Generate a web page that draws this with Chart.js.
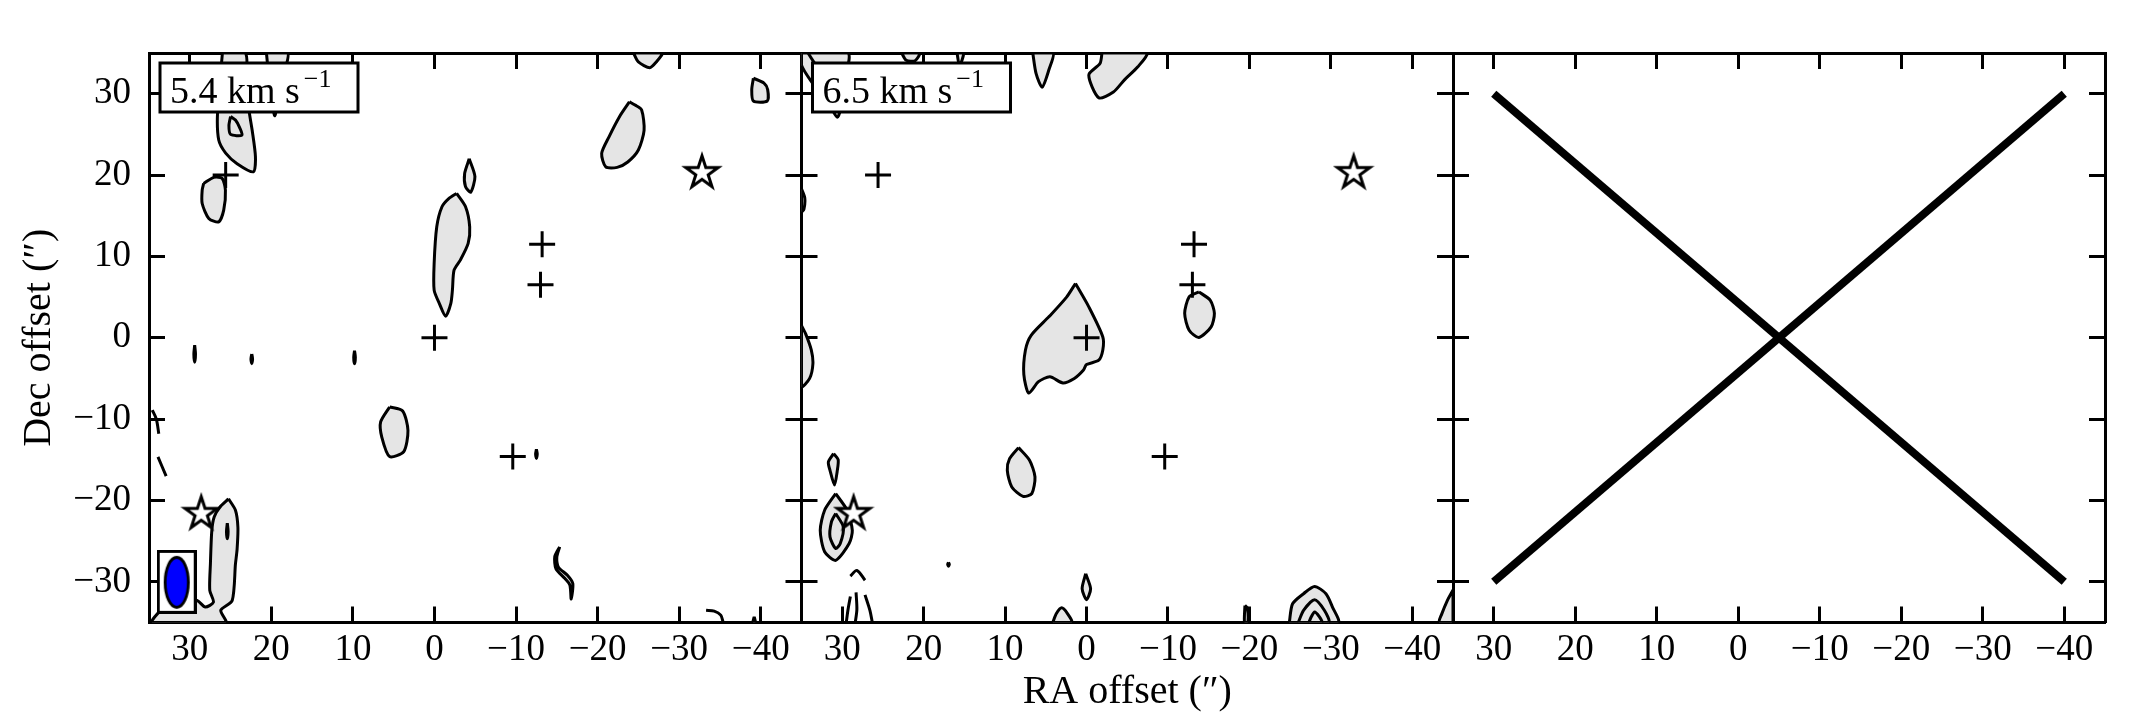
<!DOCTYPE html>
<html><head><meta charset="utf-8">
<script src="https://cdn.jsdelivr.net/npm/chart.js@4.4.1/dist/chart.umd.min.js"></script>
<style>
html,body{margin:0;padding:0;background:#fff;}
#wrap{position:relative;width:2129px;height:721px;background:#fff;overflow:hidden}
canvas{position:absolute;left:0;top:0}
</style></head><body>
<div id="wrap">
<canvas id="c1" width="2129" height="721"></canvas>
<canvas id="c2" width="2129" height="721"></canvas>
<canvas id="c3" width="2129" height="721"></canvas>
</div>
<script>
// ---------- axis ticks / labels ----------
const xTickValues = [30, 20, 10, 0, -10, -20, -30, -40];
const yTickValues = [-30, -20, -10, 0, 10, 20, 30];
const xRange = [-45, 35];
const yRange = [-35, 35];
const velocities = ['5.4', '6.5', null];
const xTitle = 'RA offset (\u2033)';
const yTitle = 'Dec offset (\u2033)';

// ---------- markers (same in both channel maps) ----------
const plusX = [25.6, 0, -13.2, -13.0, -9.6];
const plusY = [20.0, 0, 11.5, 6.5, -14.6];
const starX = [-32.8, 28.6];
const starY = [20.4, -21.5];
const beamX = [31.6];
const beamY = [-30.0];

// ---------- panel 1 (5.4 km/s) contours ----------
const a_blobA = [[26.0,35],[26.6,27.6],[26.45,24.3],[25.6,22.7],[24.2,21.4],[22.2,20.4],[21.95,22.25],[22.35,25.5],[22.8,28.4],[23.0,32.5],[23.2,35]];
const a_blobAInner = [[25.0,27.2],[24.4,26.76],[23.9,25.86],[23.6,24.9],[25.0,25.0],[25.2,26.1]];
const a_topB = [[20.6,35],[20.2,31],[19.6,27.3],[19.2,29],[18.3,33],[18.0,35]];
const a_blob20 = [[28.3,18.97],[27.06,19.71],[26.03,19.59],[25.63,18.15],[25.84,15.69],[26.45,14.25],[27.67,14.67],[28.48,16.5],[28.48,18.15]];
const a_topRight = [[-24.4,35],[-25.0,33.9],[-26.4,33.2],[-27.2,33.9],[-27.9,35]];
const a_farRight = [[-39.1,31.9],[-40.4,31.3],[-40.85,30.5],[-40.8,29.1],[-39.1,29.1],[-38.9,30.5]];
const a_blob25 = [[-23.9,29.0],[-24.6,28.6],[-25.4,28.0],[-25.7,25.5],[-25.0,23.07],[-23.7,21.6],[-22.4,20.94],[-21.0,21.0],[-20.5,22.66],[-21.4,24.7],[-22.7,27.2]];
const a_diamond = [[-4.26,22.0],[-4.96,19.8],[-4.45,17.9],[-3.8,18.6],[-3.7,20.2]];
const a_long = [[-2.72,17.74],[-3.81,16.1],[-4.32,13.64],[-4.13,11.59],[-3.17,9.54],[-2.4,8.3],[-2.2,5.85],[-2.0,4.2],[-1.37,2.65],[-0.6,4.2],[0.04,5.85],[0.04,9.13],[-0.28,13.64],[-0.92,16.1],[-1.75,17.1]];
const a_dot1 = [[29.4,-0.9],[29.5,-2.0],[29.4,-3.0],[29.3,-2.0]];
const a_dot2 = [[22.4,-2.0],[22.5,-2.6],[22.4,-3.2],[22.3,-2.6]];
const a_dot3 = [[9.8,-1.6],[9.9,-2.4],[9.8,-3.2],[9.7,-2.4]];
const a_blob5 = [[5.5,-8.5],[3.9,-9.0],[3.25,-11.4],[3.76,-14.0],[5.5,-14.6],[6.46,-12.2],[6.6,-10.35]];
const a_dot4 = [[-12.5,-13.7],[-12.6,-14.3],[-12.5,-14.85],[-12.4,-14.3]];
const a_squiggle = [[-15.35,-25.7],[-15.0,-26.95],[-15.2,-28.2],[-16.3,-29.2],[-16.96,-30.2],[-16.76,-32.1],[-16.6,-30.4],[-16.0,-29.6],[-14.9,-28.4],[-14.75,-26.9]];
const a_bigBottom = [[25.25,-19.8],[24.4,-21.2],[24.1,-23.3],[24.2,-26],[24.4,-27.8],[24.8,-32.3],[26.2,-33.5],[25.6,-35],[34.6,-35],[33.5,-33.5],[31,-32.3],[29.1,-32.3],[28.1,-33.1],[27.1,-32.5],[27.55,-31.05],[27.47,-27.77],[27.3,-23.7],[27.0,-22.0],[26.3,-20.8]];
const a_bigBottomInner = [[25.4,-22.8],[25.3,-23.8],[25.4,-24.7],[25.5,-23.8]];
const a_dot5 = [[-39.2,-34.3],[-39.35,-35],[-39.05,-35]];
const a_edgeLine1 = [[34.6,-8.9],[34.1,-10],[33.8,-11.8]];
const a_edgeLine2 = [[33.9,-14.65],[32.9,-17.0]];
const a_hook = [[-33.3,-33.5],[-34.3,-33.6],[-35.1,-34.1],[-35.4,-35]];

// ---------- panel 2 (6.5 km/s) contours ----------
const b_corner = [[35,35],[35,33.5],[33.8,31.5],[31.5,28.5],[30.6,27.1],[30.1,28.5],[29.6,32],[29.3,35]];
const b_top1 = [[22.7,35],[22.14,34.1],[21.05,34.05],[20.5,35]];
const b_top2 = [[15.9,35],[15.6,33.4],[15.1,35]];
const b_top3 = [[6.6,35],[6.2,32.5],[5.45,30.8],[4.6,33],[4.1,35]];
const b_top4 = [[-1.9,35],[-1.65,33.7],[-0.28,32.3],[-1.5,29.5],[-3.3,30.2],[-4.66,31.7],[-6.3,33.3],[-7.4,35]];
const b_blob13 = [[-13.8,5.64],[-15.2,4.6],[-15.7,3.0],[-15.3,1.34],[-13.8,0.03],[-12.6,0.93],[-12.05,3.0],[-12.6,5.03]];
const b_center = [[1.36,6.67],[-0.28,3.8],[-2.0,0.1],[-2.0,-1.5],[-1.5,-2.76],[0.0,-3.3],[0.4,-4.0],[1.5,-5.0],[2.9,-5.55],[4.5,-4.8],[5.9,-5.4],[7.1,-6.8],[7.7,-4.5],[7.5,-1.5],[6.8,0.3],[4.6,2.6],[2.45,5.0]];
const b_leftEdge1 = [[35,18.3],[34.6,17.2],[34.7,15.8],[35,15.5]];
const b_leftEdge2 = [[35,1.5],[34.5,0.5],[33.8,-1.5],[33.6,-3.2],[34.0,-5.0],[35,-6.0]];
const b_blob8 = [[8.36,-13.5],[7.0,-15.06],[6.33,-17.1],[6.72,-19.16],[7.8,-19.5],[9.18,-18.34],[9.73,-16.3],[9.45,-14.86]];
const b_narrow = [[31.06,-14.24],[30.5,-14.98],[30.6,-16.3],[30.95,-18.1],[31.5,-16.3],[31.7,-15.27]];
const b_starBlob = [[30.8,-19.16],[29.4,-21.2],[28.76,-23.67],[29.15,-25.3],[30.8,-27.36],[32.16,-26.3],[32.7,-23.67],[32.16,-21.2]];
const b_starBlobInner = [[30.8,-21.6],[29.86,-23.26],[30.24,-25.3],[30.8,-25.9],[31.5,-24.5],[31.33,-22.65]];
const b_dot = [[16.95,-27.6],[17.05,-27.85],[16.95,-28.1],[16.85,-27.85]];
const b_diamond = [[0.1,-29.0],[-0.5,-30.85],[0.0,-32.2],[0.54,-30.85]];
const b_bump = [[4.15,-35],[3.7,-33.9],[3.05,-33.2],[2.34,-33.9],[1.8,-35]];
const b_mark = [[-19.45,-32.9],[-19.75,-33.2],[-19.8,-35],[-19.4,-35]];
const b_nestOuter = [[-24.9,-35],[-25.3,-32.7],[-26.65,-31.46],[-28.0,-30.56],[-29.4,-31.46],[-30.2,-33.1],[-30.9,-35]];
const b_nestMid = [[-26.0,-35],[-26.65,-33.5],[-28.0,-32.2],[-29.2,-33.5],[-29.76,-35]];
const b_nestIn = [[-27.3,-35],[-27.6,-34.3],[-28.0,-33.7],[-28.6,-34.3],[-28.9,-35]];
const b_rightEdge = [[-45,-31],[-44.3,-32.3],[-43.6,-34],[-43.3,-35],[-45,-35]];
const b_cornerLine = [[34.2,35],[33.3,33.6]];
const b_hat = [[29.0,-29.3],[28.2,-28.6],[27.2,-29.8]];
const b_arc1 = [[29.0,-31.8],[29.3,-33.5],[29.5,-35]];
const b_arc2 = [[28.3,-31.3],[28.2,-33.4],[28.4,-35]];
const b_arc3 = [[27.2,-31.6],[26.6,-33.5],[26.3,-35]];

// ---------- panel 3 (empty panel, crossed out) ----------
const crossLineA = [[30, 30], [-40, -30]];
const crossLineB = [[30, -30], [-40, 30]];

const panel1Filled = [a_blobA, a_blobAInner, a_topB, a_blob20, a_topRight, a_farRight, a_blob25, a_diamond, a_long,
  a_dot1, a_dot2, a_dot3, a_blob5, a_dot4, a_squiggle, a_bigBottom, a_bigBottomInner, a_dot5];
const panel1Lines = [a_edgeLine1, a_edgeLine2, a_hook];
const panel2Filled = [b_corner, b_top1, b_top2, b_top3, b_top4, b_blob13, b_center, b_leftEdge1, b_leftEdge2, b_blob8,
  b_narrow, b_starBlob, b_starBlobInner, b_dot, b_diamond, b_bump, b_mark, b_nestOuter, b_nestMid, b_nestIn, b_rightEdge];
const panel2Lines = [b_cornerLine, b_hat, b_arc1, b_arc2, b_arc3];

// ---------- layout / style ----------
const FONT = '"Liberation Serif", "DejaVu Serif", serif';
const EDGES = [149, 801.5, 1453, 2105];
const TOP = 53, BOTTOM = 622.5, H = 721, W = 2129;
const GRAY = '#e5e5e5';
Chart.defaults.font.family = FONT;
Chart.defaults.color = '#000';

function fmt(v) { return v < 0 ? '\u2212' + Math.abs(v) : String(v); }
function pts(arr) { return arr.map(p => ({x: p[0], y: p[1]})); }

// later contours (inner levels) are drawn on top: lower order = drawn later
function filledDs(arr, i) {
  return {type: 'scatter', data: pts(arr.concat([arr[0]])), showLine: true, fill: 'shape',
    backgroundColor: GRAY, borderColor: '#000', borderWidth: 3, pointRadius: 0, tension: 0.25, clip: 0, order: 500 - i};
}
function lineDs(arr, i) {
  return {type: 'scatter', data: pts(arr), showLine: true, fill: false,
    borderColor: '#000', borderWidth: 3, pointRadius: 0, tension: 0.3, clip: 0, order: 200 - i};
}

function makeStar() {
  const c = document.createElement('canvas'); c.width = 42; c.height = 42;
  const g = c.getContext('2d');
  const R = 17, r = R * 0.382, cx = 21, cy = 22;
  g.beginPath();
  for (let i = 0; i < 10; i++) {
    const rad = (i % 2 === 0 ? R : r);
    const ang = -Math.PI / 2 + i * Math.PI / 5;
    const px = cx + rad * Math.cos(ang), py = cy + rad * Math.sin(ang);
    if (i === 0) g.moveTo(px, py); else g.lineTo(px, py);
  }
  g.closePath();
  g.fillStyle = '#fff'; g.fill();
  g.lineWidth = 3; g.strokeStyle = '#000'; g.lineJoin = 'miter'; g.stroke();
  return c;
}
function makeBeam() {
  const c = document.createElement('canvas'); c.width = 40; c.height = 64;
  const g = c.getContext('2d');
  g.fillStyle = '#fff'; g.fillRect(1.5, 1.5, 37, 61);
  g.lineWidth = 3; g.strokeStyle = '#000'; g.strokeRect(1.5, 1.5, 37, 61);
  g.beginPath(); g.ellipse(20, 32.5, 11.6, 25, 0, 0, 2 * Math.PI);
  g.fillStyle = '#0000ff'; g.fill(); g.lineWidth = 2.8; g.stroke();
  return c;
}
const starImg = makeStar();
const beamImg = makeBeam();

function markerDatasets() {
  return [
    {type: 'scatter', data: plusX.map((x, i) => ({x, y: plusY[i]})), pointStyle: 'cross', pointRadius: 13,
     pointBorderColor: '#000', pointBorderWidth: 3, showLine: false, order: -10},
    {type: 'scatter', data: starX.map((x, i) => ({x, y: starY[i]})), pointStyle: starImg, pointRadius: 15,
     showLine: false, order: -11}
  ];
}

const labelPlugin = {
  id: 'panelLabel',
  afterDraw(chart) {
    const v = chart.$velocity;
    if (!v) return;
    const ctx = chart.ctx, a = chart.chartArea;
    const x0 = a.left + 11, y0 = a.top + 10, w = 198, h = 49;
    ctx.save();
    ctx.fillStyle = '#fff'; ctx.fillRect(x0, y0, w, h);
    ctx.lineWidth = 3; ctx.strokeStyle = '#000'; ctx.strokeRect(x0, y0, w, h);
    ctx.fillStyle = '#000'; ctx.textBaseline = 'alphabetic'; ctx.textAlign = 'left';
    ctx.font = '38px ' + FONT;
    const main = v + ' km s';
    ctx.fillText(main, x0 + 10, y0 + 40);
    const mw = ctx.measureText(main).width;
    ctx.font = '26px ' + FONT;
    ctx.fillText('\u22121', x0 + 10 + mw + 4, y0 + 24);
    ctx.restore();
  }
};

function makeScales(idx) {
  const showY = idx === 0;
  const grid = {display: true, drawOnChartArea: false, drawTicks: true, tickLength: -16, tickWidth: 3, tickColor: '#000'};
  const border = {display: true, width: 3, color: '#000'};
  const setX = s => { s.ticks = xTickValues.map(v => ({value: v})); };
  const setY = s => { s.ticks = yTickValues.map(v => ({value: v})); };
  const tickFont = {family: FONT, size: 37};
  return {
    x: {type: 'linear', position: 'bottom', min: xRange[0], max: xRange[1], reverse: true, z: 1, grid, border,
      afterBuildTicks: setX,
      ticks: {font: tickFont, color: '#000', padding: 22, maxRotation: 0, autoSkip: false, callback: fmt},
      title: idx === 1 ? {display: true, text: xTitle, color: '#000', font: {family: FONT, size: 40}, padding: {top: 0, bottom: 5}} : {display: false},
      afterFit: s => { s.height = H - BOTTOM; s.paddingLeft = 0; s.paddingRight = 0; s.paddingTop = 0; s.paddingBottom = 0; }
    },
    xTop: {type: 'linear', position: 'top', min: xRange[0], max: xRange[1], reverse: true, z: 1, grid, border,
      afterBuildTicks: setX, ticks: {display: false},
      afterFit: s => { s.height = 0; s.paddingLeft = 0; s.paddingRight = 0; s.paddingTop = 0; s.paddingBottom = 0; }
    },
    y: {type: 'linear', position: 'left', min: yRange[0], max: yRange[1], z: 1, grid, border,
      afterBuildTicks: setY,
      ticks: {display: showY, font: tickFont, color: '#000', padding: 34, autoSkip: false, callback: fmt},
      title: showY ? {display: true, text: yTitle, color: '#000', font: {family: FONT, size: 40}, padding: {top: 15, bottom: 0}} : {display: false},
      afterFit: s => { s.width = showY ? EDGES[0] : 0; s.paddingTop = 0; s.paddingBottom = 0; s.paddingLeft = 0; s.paddingRight = 0; }
    },
    yRight: {type: 'linear', position: 'right', min: yRange[0], max: yRange[1], z: 1, grid, border,
      afterBuildTicks: setY, ticks: {display: false},
      afterFit: s => { s.width = 0; s.paddingTop = 0; s.paddingBottom = 0; s.paddingLeft = 0; s.paddingRight = 0; }
    }
  };
}

function makeChart(idx, datasets) {
  const left = idx === 0 ? 0 : EDGES[idx];
  const right = W - EDGES[idx + 1];
  const chart = new Chart(document.getElementById('c' + (idx + 1)), {
    type: 'scatter',
    data: {datasets},
    options: {
      responsive: false, animation: false, events: [],
      layout: {padding: {left, right, top: TOP, bottom: 0}},
      scales: makeScales(idx),
      plugins: {legend: {display: false}, tooltip: {enabled: false}}
    },
    plugins: [labelPlugin]
  });
  chart.$velocity = velocities[idx];
  chart.draw();
  return chart;
}

// Panel 1
const ds1 = panel1Filled.map(filledDs).concat(panel1Lines.map(lineDs)).concat(markerDatasets());
ds1.push({type: 'scatter', data: beamX.map((x, i) => ({x, y: beamY[i]})), pointStyle: beamImg, pointRadius: 10, showLine: false, order: -20});
makeChart(0, ds1);

// Panel 2
const ds2 = panel2Filled.map(filledDs).concat(panel2Lines.map(lineDs)).concat(markerDatasets());
makeChart(1, ds2);

// Panel 3
const ds3 = [crossLineA, crossLineB].map(arr => ({type: 'scatter', data: pts(arr), showLine: true, fill: false,
  borderColor: '#000', borderWidth: 8, borderCapStyle: 'butt', pointRadius: 0}));
makeChart(2, ds3);
</script>
</body></html>
